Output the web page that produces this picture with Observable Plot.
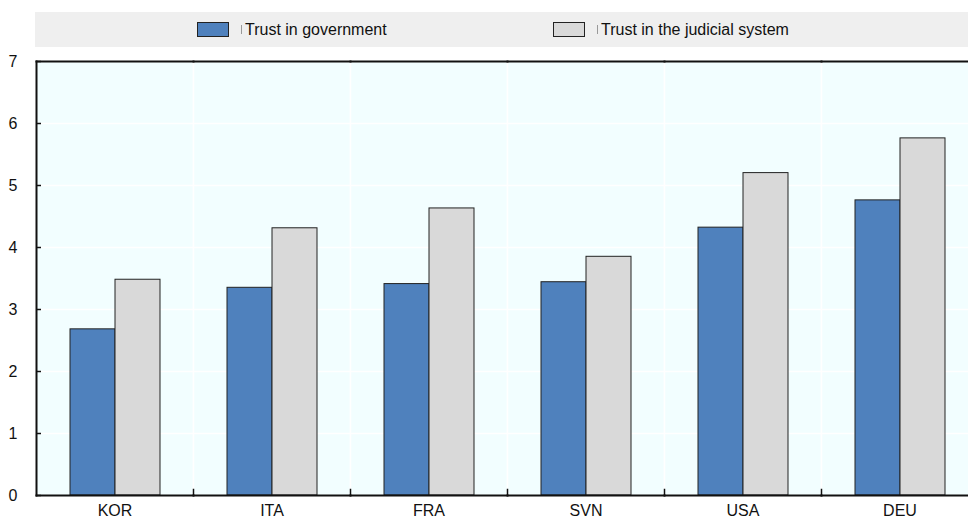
<!DOCTYPE html>
<html>
<head>
<meta charset="utf-8">
<script src="https://cdn.jsdelivr.net/npm/d3@7"></script>
<script src="https://cdn.jsdelivr.net/npm/@observablehq/plot@0.6"></script>
<style>
  html, body { margin: 0; padding: 0; background: #fff; overflow: hidden; width: 968px; height: 523px; }
  body { font-family: "Liberation Sans", Arial, sans-serif; color: #111; }
  #legend { position: relative; margin: 12px 0 0 35px; height: 35px; width: 933px; background: #efefef; }
  .item { position: absolute; top: 0; height: 35px; display: flex; align-items: center; font-size: 16px; }
  .sw { width: 30px; height: 13px; border: 1px solid #222; box-sizing: content-box; }
  .sep { width: 1px; height: 9px; background: #999; margin: 0 3px 0 12px; }
  #chart { margin-top: 3px; width: 978px; }
  #chart svg { display: block; max-width: none !important; width: 978px; height: 473px; }
</style>
</head>
<body>
<div id="legend"></div>
<div id="chart"></div>
<script>
const countries = ["KOR", "ITA", "FRA", "SVN", "USA", "DEU"];
const seriesNames = ["Trust in government", "Trust in the judicial system"];
const govValues = [2.68, 3.35, 3.41, 3.44, 4.32, 4.76];
const judValues = [3.48, 4.31, 4.63, 3.85, 5.20, 5.76];
const yTicks = [0, 1, 2, 3, 4, 5, 6, 7];
const seriesColors = ["#4f81bd", "#d9d9d9"];

const data = countries.flatMap((c, i) => [
  {country: c, series: seriesNames[0], value: govValues[i]},
  {country: c, series: seriesNames[1], value: judValues[i]}
]);

// Legend
const legend = document.getElementById("legend");
const legendLefts = [162, 518];
seriesNames.forEach((name, i) => {
  const item = document.createElement("div");
  item.className = "item";
  item.style.left = legendLefts[i] + "px";
  const sw = document.createElement("div");
  sw.className = "sw";
  sw.style.background = seriesColors[i];
  const sep = document.createElement("div");
  sep.className = "sep";
  const label = document.createElement("span");
  label.textContent = name;
  item.append(sw, sep, label);
  legend.append(item);
});

const chart = Plot.plot({
  width: 978,
  height: 473,
  marginTop: 11,
  marginBottom: 28,
  marginLeft: 36,
  marginRight: 0,
  style: {fontFamily: "'Liberation Sans Narrow', 'Arial Narrow', 'Liberation Sans', Arial, sans-serif", fontSize: "16px", color: "#111", background: "transparent", overflow: "visible", maxWidth: "none"},
  fx: {domain: countries, padding: 0, label: null, axis: null},
  x: {domain: seriesNames, paddingInner: 0, paddingOuter: 0.744, axis: null},
  y: {domain: [0, 7], axis: null},
  color: {domain: seriesNames, range: seriesColors},
  marks: [
    Plot.frame({fill: "#f2feff", stroke: "white", strokeWidth: 1.5}),
    Plot.gridY(yTicks, {stroke: "white", strokeOpacity: 1, strokeWidth: 1.5}),
    Plot.barY(data, {fx: "country", x: "series", y: "value", fill: "series", stroke: "#222", strokeWidth: 1}),
    Plot.frame({anchor: "right", insetTop: 428, stroke: "#111", strokeWidth: 1.5}),
    Plot.frame({anchor: "top", stroke: "#111", strokeWidth: 2}),
    Plot.frame({anchor: "bottom", stroke: "#111", strokeWidth: 2}),
    Plot.frame({anchor: "left", facetAnchor: "left", stroke: "#111", strokeWidth: 2}),
    Plot.axisY(yTicks, {anchor: "left", tickSize: 0, tickPadding: 19, tickFormat: d3.format("d"), label: null, fontSize: 16}),
    Plot.axisY(yTicks, {anchor: "left", text: null, tickSize: 5, dx: 5, stroke: "#111", strokeWidth: 1.5, label: null}),
    Plot.axisFx({anchor: "bottom", tickSize: 0, tickPadding: 9, label: null, fontSize: 16})
  ]
});
document.getElementById("chart").append(chart);
</script>
</body>
</html>
